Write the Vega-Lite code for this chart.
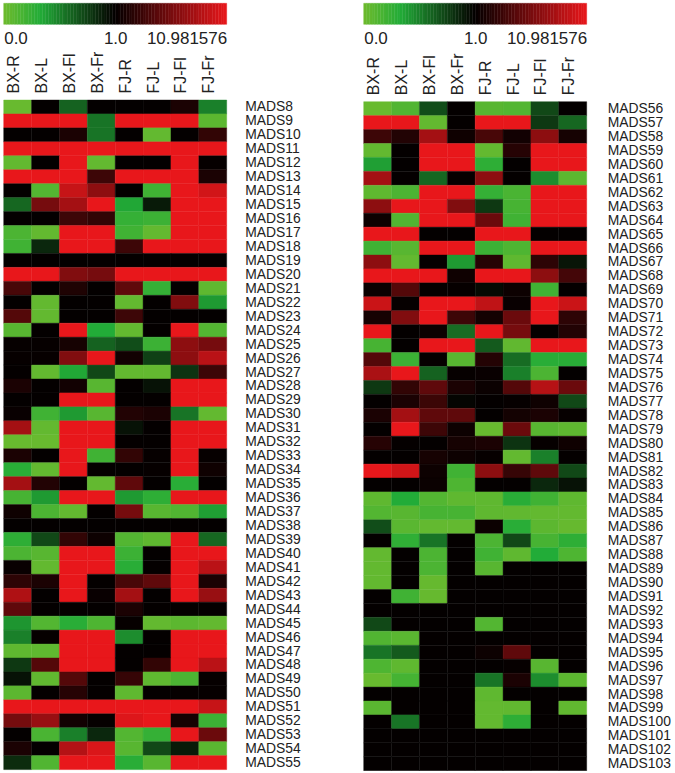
{"$schema":"https://vega.github.io/schema/vega-lite/v6.json","background":"white","padding":{"left":2.7,"top":2.3,"right":0,"bottom":0},"config":{"view":{"stroke":null},"font":"Liberation Sans","concat":{"spacing":0}},
"datasets":{
"bar":[{"pos":0,"end":0.0125,"value":0.0125},{"pos":0.0125,"end":0.025,"value":0.0375},{"pos":0.025,"end":0.0375,"value":0.0625},{"pos":0.0375,"end":0.05,"value":0.0875},{"pos":0.05,"end":0.0625,"value":0.1125},{"pos":0.0625,"end":0.075,"value":0.1375},{"pos":0.075,"end":0.0875,"value":0.1625},{"pos":0.0875,"end":0.1,"value":0.1875},{"pos":0.1,"end":0.1125,"value":0.2125},{"pos":0.1125,"end":0.125,"value":0.2375},{"pos":0.125,"end":0.1375,"value":0.2625},{"pos":0.1375,"end":0.15,"value":0.2875},{"pos":0.15,"end":0.1625,"value":0.3125},{"pos":0.1625,"end":0.175,"value":0.3375},{"pos":0.175,"end":0.1875,"value":0.3625},{"pos":0.1875,"end":0.2,"value":0.3875},{"pos":0.2,"end":0.2125,"value":0.4125},{"pos":0.2125,"end":0.225,"value":0.4375},{"pos":0.225,"end":0.2375,"value":0.4625},{"pos":0.2375,"end":0.25,"value":0.4875},{"pos":0.25,"end":0.2625,"value":0.5125},{"pos":0.2625,"end":0.275,"value":0.5375},{"pos":0.275,"end":0.2875,"value":0.5625},{"pos":0.2875,"end":0.3,"value":0.5875},{"pos":0.3,"end":0.3125,"value":0.6125},{"pos":0.3125,"end":0.325,"value":0.6375},{"pos":0.325,"end":0.3375,"value":0.6625},{"pos":0.3375,"end":0.35,"value":0.6875},{"pos":0.35,"end":0.3625,"value":0.7125},{"pos":0.3625,"end":0.375,"value":0.7375},{"pos":0.375,"end":0.3875,"value":0.7625},{"pos":0.3875,"end":0.4,"value":0.7875},{"pos":0.4,"end":0.4125,"value":0.8125},{"pos":0.4125,"end":0.425,"value":0.8375},{"pos":0.425,"end":0.4375,"value":0.8625},{"pos":0.4375,"end":0.45,"value":0.8875},{"pos":0.45,"end":0.4625,"value":0.9125},{"pos":0.4625,"end":0.475,"value":0.9375},{"pos":0.475,"end":0.4875,"value":0.9625},{"pos":0.4875,"end":0.5,"value":0.9875},{"pos":0.5,"end":0.5125,"value":1.125},{"pos":0.5125,"end":0.525,"value":1.375},{"pos":0.525,"end":0.5375,"value":1.625},{"pos":0.5375,"end":0.55,"value":1.875},{"pos":0.55,"end":0.5625,"value":2.125},{"pos":0.5625,"end":0.575,"value":2.375},{"pos":0.575,"end":0.5875,"value":2.625},{"pos":0.5875,"end":0.6,"value":2.875},{"pos":0.6,"end":0.6125,"value":3.125},{"pos":0.6125,"end":0.625,"value":3.375},{"pos":0.625,"end":0.6375,"value":3.625},{"pos":0.6375,"end":0.65,"value":3.875},{"pos":0.65,"end":0.6625,"value":4.125},{"pos":0.6625,"end":0.675,"value":4.375},{"pos":0.675,"end":0.6875,"value":4.625},{"pos":0.6875,"end":0.7,"value":4.875},{"pos":0.7,"end":0.7125,"value":5.125},{"pos":0.7125,"end":0.725,"value":5.375},{"pos":0.725,"end":0.7375,"value":5.625},{"pos":0.7375,"end":0.75,"value":5.875},{"pos":0.75,"end":0.7625,"value":6.125},{"pos":0.7625,"end":0.775,"value":6.375},{"pos":0.775,"end":0.7875,"value":6.625},{"pos":0.7875,"end":0.8,"value":6.875},{"pos":0.8,"end":0.8125,"value":7.125},{"pos":0.8125,"end":0.825,"value":7.375},{"pos":0.825,"end":0.8375,"value":7.625},{"pos":0.8375,"end":0.85,"value":7.875},{"pos":0.85,"end":0.8625,"value":8.125},{"pos":0.8625,"end":0.875,"value":8.375},{"pos":0.875,"end":0.8875,"value":8.625},{"pos":0.8875,"end":0.9,"value":8.875},{"pos":0.9,"end":0.9125,"value":9.125},{"pos":0.9125,"end":0.925,"value":9.375},{"pos":0.925,"end":0.9375,"value":9.625},{"pos":0.9375,"end":0.95,"value":9.875},{"pos":0.95,"end":0.9625,"value":10.125},{"pos":0.9625,"end":0.975,"value":10.375},{"pos":0.975,"end":0.9875,"value":10.625},{"pos":0.9875,"end":1,"value":10.875}],
"left":[
{"gene":"MADS8","tissue":"BX-R","value":0.03},{"gene":"MADS8","tissue":"BX-L","value":1},{"gene":"MADS8","tissue":"BX-Fl","value":0.62},{"gene":"MADS8","tissue":"BX-Fr","value":1},{"gene":"MADS8","tissue":"FJ-R","value":1},{"gene":"MADS8","tissue":"FJ-L","value":1},{"gene":"MADS8","tissue":"FJ-Fl","value":2},{"gene":"MADS8","tissue":"FJ-Fr","value":0.5},
{"gene":"MADS9","tissue":"BX-R","value":11},{"gene":"MADS9","tissue":"BX-L","value":11},{"gene":"MADS9","tissue":"BX-Fl","value":11},{"gene":"MADS9","tissue":"BX-Fr","value":0.55},{"gene":"MADS9","tissue":"FJ-R","value":11},{"gene":"MADS9","tissue":"FJ-L","value":11},{"gene":"MADS9","tissue":"FJ-Fl","value":11},{"gene":"MADS9","tissue":"FJ-Fr","value":0.08},
{"gene":"MADS10","tissue":"BX-R","value":1},{"gene":"MADS10","tissue":"BX-L","value":1},{"gene":"MADS10","tissue":"BX-Fl","value":2},{"gene":"MADS10","tissue":"BX-Fr","value":0.55},{"gene":"MADS10","tissue":"FJ-R","value":1},{"gene":"MADS10","tissue":"FJ-L","value":0.05},{"gene":"MADS10","tissue":"FJ-Fl","value":1},{"gene":"MADS10","tissue":"FJ-Fr","value":3},
{"gene":"MADS11","tissue":"BX-R","value":11},{"gene":"MADS11","tissue":"BX-L","value":11},{"gene":"MADS11","tissue":"BX-Fl","value":11},{"gene":"MADS11","tissue":"BX-Fr","value":11},{"gene":"MADS11","tissue":"FJ-R","value":11},{"gene":"MADS11","tissue":"FJ-L","value":11},{"gene":"MADS11","tissue":"FJ-Fl","value":11},{"gene":"MADS11","tissue":"FJ-Fr","value":11},
{"gene":"MADS12","tissue":"BX-R","value":0.05},{"gene":"MADS12","tissue":"BX-L","value":1},{"gene":"MADS12","tissue":"BX-Fl","value":11},{"gene":"MADS12","tissue":"BX-Fr","value":0.05},{"gene":"MADS12","tissue":"FJ-R","value":1},{"gene":"MADS12","tissue":"FJ-L","value":1},{"gene":"MADS12","tissue":"FJ-Fl","value":11},{"gene":"MADS12","tissue":"FJ-Fr","value":1.1},
{"gene":"MADS13","tissue":"BX-R","value":11},{"gene":"MADS13","tissue":"BX-L","value":11},{"gene":"MADS13","tissue":"BX-Fl","value":11},{"gene":"MADS13","tissue":"BX-Fr","value":3.5},{"gene":"MADS13","tissue":"FJ-R","value":11},{"gene":"MADS13","tissue":"FJ-L","value":11},{"gene":"MADS13","tissue":"FJ-Fl","value":11},{"gene":"MADS13","tissue":"FJ-Fr","value":2},
{"gene":"MADS14","tissue":"BX-R","value":1},{"gene":"MADS14","tissue":"BX-L","value":0.12},{"gene":"MADS14","tissue":"BX-Fl","value":9.5},{"gene":"MADS14","tissue":"BX-Fr","value":7},{"gene":"MADS14","tissue":"FJ-R","value":1},{"gene":"MADS14","tissue":"FJ-L","value":0.2},{"gene":"MADS14","tissue":"FJ-Fl","value":11},{"gene":"MADS14","tissue":"FJ-Fr","value":10},
{"gene":"MADS15","tissue":"BX-R","value":0.6},{"gene":"MADS15","tissue":"BX-L","value":6},{"gene":"MADS15","tissue":"BX-Fl","value":8},{"gene":"MADS15","tissue":"BX-Fr","value":11},{"gene":"MADS15","tissue":"FJ-R","value":0.35},{"gene":"MADS15","tissue":"FJ-L","value":0.9},{"gene":"MADS15","tissue":"FJ-Fl","value":11},{"gene":"MADS15","tissue":"FJ-Fr","value":11},
{"gene":"MADS16","tissue":"BX-R","value":1},{"gene":"MADS16","tissue":"BX-L","value":1},{"gene":"MADS16","tissue":"BX-Fl","value":3.5},{"gene":"MADS16","tissue":"BX-Fr","value":3},{"gene":"MADS16","tissue":"FJ-R","value":0.25},{"gene":"MADS16","tissue":"FJ-L","value":0.22},{"gene":"MADS16","tissue":"FJ-Fl","value":11},{"gene":"MADS16","tissue":"FJ-Fr","value":11},
{"gene":"MADS17","tissue":"BX-R","value":0.15},{"gene":"MADS17","tissue":"BX-L","value":0.05},{"gene":"MADS17","tissue":"BX-Fl","value":11},{"gene":"MADS17","tissue":"BX-Fr","value":11},{"gene":"MADS17","tissue":"FJ-R","value":0.2},{"gene":"MADS17","tissue":"FJ-L","value":0.05},{"gene":"MADS17","tissue":"FJ-Fl","value":11},{"gene":"MADS17","tissue":"FJ-Fr","value":11},
{"gene":"MADS18","tissue":"BX-R","value":0.2},{"gene":"MADS18","tissue":"BX-L","value":0.85},{"gene":"MADS18","tissue":"BX-Fl","value":11},{"gene":"MADS18","tissue":"BX-Fr","value":11},{"gene":"MADS18","tissue":"FJ-R","value":3.5},{"gene":"MADS18","tissue":"FJ-L","value":11},{"gene":"MADS18","tissue":"FJ-Fl","value":11},{"gene":"MADS18","tissue":"FJ-Fr","value":11},
{"gene":"MADS19","tissue":"BX-R","value":1},{"gene":"MADS19","tissue":"BX-L","value":1},{"gene":"MADS19","tissue":"BX-Fl","value":1},{"gene":"MADS19","tissue":"BX-Fr","value":1},{"gene":"MADS19","tissue":"FJ-R","value":1},{"gene":"MADS19","tissue":"FJ-L","value":1},{"gene":"MADS19","tissue":"FJ-Fl","value":1},{"gene":"MADS19","tissue":"FJ-Fr","value":1},
{"gene":"MADS20","tissue":"BX-R","value":11},{"gene":"MADS20","tissue":"BX-L","value":11},{"gene":"MADS20","tissue":"BX-Fl","value":6.5},{"gene":"MADS20","tissue":"BX-Fr","value":6},{"gene":"MADS20","tissue":"FJ-R","value":11},{"gene":"MADS20","tissue":"FJ-L","value":11},{"gene":"MADS20","tissue":"FJ-Fl","value":11},{"gene":"MADS20","tissue":"FJ-Fr","value":11},
{"gene":"MADS21","tissue":"BX-R","value":4},{"gene":"MADS21","tissue":"BX-L","value":1},{"gene":"MADS21","tissue":"BX-Fl","value":2.2},{"gene":"MADS21","tissue":"BX-Fr","value":1},{"gene":"MADS21","tissue":"FJ-R","value":5},{"gene":"MADS21","tissue":"FJ-L","value":0.25},{"gene":"MADS21","tissue":"FJ-Fl","value":1},{"gene":"MADS21","tissue":"FJ-Fr","value":0.07},
{"gene":"MADS22","tissue":"BX-R","value":1},{"gene":"MADS22","tissue":"BX-L","value":0.05},{"gene":"MADS22","tissue":"BX-Fl","value":1},{"gene":"MADS22","tissue":"BX-Fr","value":1},{"gene":"MADS22","tissue":"FJ-R","value":0.05},{"gene":"MADS22","tissue":"FJ-L","value":1},{"gene":"MADS22","tissue":"FJ-Fl","value":6.5},{"gene":"MADS22","tissue":"FJ-Fr","value":0.4},
{"gene":"MADS23","tissue":"BX-R","value":4.5},{"gene":"MADS23","tissue":"BX-L","value":0.05},{"gene":"MADS23","tissue":"BX-Fl","value":1},{"gene":"MADS23","tissue":"BX-Fr","value":1},{"gene":"MADS23","tissue":"FJ-R","value":3.5},{"gene":"MADS23","tissue":"FJ-L","value":1},{"gene":"MADS23","tissue":"FJ-Fl","value":1},{"gene":"MADS23","tissue":"FJ-Fr","value":1},
{"gene":"MADS24","tissue":"BX-R","value":0.1},{"gene":"MADS24","tissue":"BX-L","value":1},{"gene":"MADS24","tissue":"BX-Fl","value":11},{"gene":"MADS24","tissue":"BX-Fr","value":0.33},{"gene":"MADS24","tissue":"FJ-R","value":0.05},{"gene":"MADS24","tissue":"FJ-L","value":1},{"gene":"MADS24","tissue":"FJ-Fl","value":11},{"gene":"MADS24","tissue":"FJ-Fr","value":0.12},
{"gene":"MADS25","tissue":"BX-R","value":1.1},{"gene":"MADS25","tissue":"BX-L","value":1.1},{"gene":"MADS25","tissue":"BX-Fl","value":1.8},{"gene":"MADS25","tissue":"BX-Fr","value":0.62},{"gene":"MADS25","tissue":"FJ-R","value":0.7},{"gene":"MADS25","tissue":"FJ-L","value":0.22},{"gene":"MADS25","tissue":"FJ-Fl","value":7},{"gene":"MADS25","tissue":"FJ-Fr","value":6},
{"gene":"MADS26","tissue":"BX-R","value":1.1},{"gene":"MADS26","tissue":"BX-L","value":1.1},{"gene":"MADS26","tissue":"BX-Fl","value":6.5},{"gene":"MADS26","tissue":"BX-Fr","value":11},{"gene":"MADS26","tissue":"FJ-R","value":1.6},{"gene":"MADS26","tissue":"FJ-L","value":0.75},{"gene":"MADS26","tissue":"FJ-Fl","value":7},{"gene":"MADS26","tissue":"FJ-Fr","value":9},
{"gene":"MADS27","tissue":"BX-R","value":1},{"gene":"MADS27","tissue":"BX-L","value":0.05},{"gene":"MADS27","tissue":"BX-Fl","value":0.35},{"gene":"MADS27","tissue":"BX-Fr","value":0.72},{"gene":"MADS27","tissue":"FJ-R","value":0.05},{"gene":"MADS27","tissue":"FJ-L","value":0.05},{"gene":"MADS27","tissue":"FJ-Fl","value":0.8},{"gene":"MADS27","tissue":"FJ-Fr","value":3.5},
{"gene":"MADS28","tissue":"BX-R","value":2},{"gene":"MADS28","tissue":"BX-L","value":1},{"gene":"MADS28","tissue":"BX-Fl","value":1.6},{"gene":"MADS28","tissue":"BX-Fr","value":0.1},{"gene":"MADS28","tissue":"FJ-R","value":1},{"gene":"MADS28","tissue":"FJ-L","value":0.93},{"gene":"MADS28","tissue":"FJ-Fl","value":11},{"gene":"MADS28","tissue":"FJ-Fr","value":11},
{"gene":"MADS29","tissue":"BX-R","value":1},{"gene":"MADS29","tissue":"BX-L","value":1},{"gene":"MADS29","tissue":"BX-Fl","value":11},{"gene":"MADS29","tissue":"BX-Fr","value":11},{"gene":"MADS29","tissue":"FJ-R","value":1},{"gene":"MADS29","tissue":"FJ-L","value":1},{"gene":"MADS29","tissue":"FJ-Fl","value":11},{"gene":"MADS29","tissue":"FJ-Fr","value":11},
{"gene":"MADS30","tissue":"BX-R","value":1.2},{"gene":"MADS30","tissue":"BX-L","value":0.2},{"gene":"MADS30","tissue":"BX-Fl","value":0.4},{"gene":"MADS30","tissue":"BX-Fr","value":0.1},{"gene":"MADS30","tissue":"FJ-R","value":2.3},{"gene":"MADS30","tissue":"FJ-L","value":2},{"gene":"MADS30","tissue":"FJ-Fl","value":0.55},{"gene":"MADS30","tissue":"FJ-Fr","value":0.05},
{"gene":"MADS31","tissue":"BX-R","value":8},{"gene":"MADS31","tissue":"BX-L","value":0.05},{"gene":"MADS31","tissue":"BX-Fl","value":11},{"gene":"MADS31","tissue":"BX-Fr","value":11},{"gene":"MADS31","tissue":"FJ-R","value":0.93},{"gene":"MADS31","tissue":"FJ-L","value":1},{"gene":"MADS31","tissue":"FJ-Fl","value":11},{"gene":"MADS31","tissue":"FJ-Fr","value":11},
{"gene":"MADS32","tissue":"BX-R","value":0.03},{"gene":"MADS32","tissue":"BX-L","value":0.03},{"gene":"MADS32","tissue":"BX-Fl","value":11},{"gene":"MADS32","tissue":"BX-Fr","value":11},{"gene":"MADS32","tissue":"FJ-R","value":1},{"gene":"MADS32","tissue":"FJ-L","value":1},{"gene":"MADS32","tissue":"FJ-Fl","value":11},{"gene":"MADS32","tissue":"FJ-Fr","value":11},
{"gene":"MADS33","tissue":"BX-R","value":2},{"gene":"MADS33","tissue":"BX-L","value":1},{"gene":"MADS33","tissue":"BX-Fl","value":11},{"gene":"MADS33","tissue":"BX-Fr","value":0.2},{"gene":"MADS33","tissue":"FJ-R","value":3},{"gene":"MADS33","tissue":"FJ-L","value":1.1},{"gene":"MADS33","tissue":"FJ-Fl","value":11},{"gene":"MADS33","tissue":"FJ-Fr","value":1.1},
{"gene":"MADS34","tissue":"BX-R","value":0.3},{"gene":"MADS34","tissue":"BX-L","value":0.05},{"gene":"MADS34","tissue":"BX-Fl","value":11},{"gene":"MADS34","tissue":"BX-Fr","value":1},{"gene":"MADS34","tissue":"FJ-R","value":1},{"gene":"MADS34","tissue":"FJ-L","value":1.1},{"gene":"MADS34","tissue":"FJ-Fl","value":11},{"gene":"MADS34","tissue":"FJ-Fr","value":1.5},
{"gene":"MADS35","tissue":"BX-R","value":8},{"gene":"MADS35","tissue":"BX-L","value":2.3},{"gene":"MADS35","tissue":"BX-Fl","value":1},{"gene":"MADS35","tissue":"BX-Fr","value":0.05},{"gene":"MADS35","tissue":"FJ-R","value":5},{"gene":"MADS35","tissue":"FJ-L","value":1},{"gene":"MADS35","tissue":"FJ-Fl","value":0.3},{"gene":"MADS35","tissue":"FJ-Fr","value":1},
{"gene":"MADS36","tissue":"BX-R","value":0.17},{"gene":"MADS36","tissue":"BX-L","value":0.4},{"gene":"MADS36","tissue":"BX-Fl","value":11},{"gene":"MADS36","tissue":"BX-Fr","value":11},{"gene":"MADS36","tissue":"FJ-R","value":0.4},{"gene":"MADS36","tissue":"FJ-L","value":0.28},{"gene":"MADS36","tissue":"FJ-Fl","value":11},{"gene":"MADS36","tissue":"FJ-Fr","value":11},
{"gene":"MADS37","tissue":"BX-R","value":1.5},{"gene":"MADS37","tissue":"BX-L","value":0.15},{"gene":"MADS37","tissue":"BX-Fl","value":0.05},{"gene":"MADS37","tissue":"BX-Fr","value":1},{"gene":"MADS37","tissue":"FJ-R","value":6},{"gene":"MADS37","tissue":"FJ-L","value":0.1},{"gene":"MADS37","tissue":"FJ-Fl","value":0.13},{"gene":"MADS37","tissue":"FJ-Fr","value":0.38},
{"gene":"MADS38","tissue":"BX-R","value":1},{"gene":"MADS38","tissue":"BX-L","value":1},{"gene":"MADS38","tissue":"BX-Fl","value":1},{"gene":"MADS38","tissue":"BX-Fr","value":1},{"gene":"MADS38","tissue":"FJ-R","value":1},{"gene":"MADS38","tissue":"FJ-L","value":1},{"gene":"MADS38","tissue":"FJ-Fl","value":1},{"gene":"MADS38","tissue":"FJ-Fr","value":1},
{"gene":"MADS39","tissue":"BX-R","value":0.28},{"gene":"MADS39","tissue":"BX-L","value":0.72},{"gene":"MADS39","tissue":"BX-Fl","value":3},{"gene":"MADS39","tissue":"BX-Fr","value":1.4},{"gene":"MADS39","tissue":"FJ-R","value":0.12},{"gene":"MADS39","tissue":"FJ-L","value":0.07},{"gene":"MADS39","tissue":"FJ-Fl","value":11},{"gene":"MADS39","tissue":"FJ-Fr","value":0.6},
{"gene":"MADS40","tissue":"BX-R","value":0.15},{"gene":"MADS40","tissue":"BX-L","value":0.1},{"gene":"MADS40","tissue":"BX-Fl","value":11},{"gene":"MADS40","tissue":"BX-Fr","value":11},{"gene":"MADS40","tissue":"FJ-R","value":0.22},{"gene":"MADS40","tissue":"FJ-L","value":1},{"gene":"MADS40","tissue":"FJ-Fl","value":11},{"gene":"MADS40","tissue":"FJ-Fr","value":11},
{"gene":"MADS41","tissue":"BX-R","value":1.2},{"gene":"MADS41","tissue":"BX-L","value":0.05},{"gene":"MADS41","tissue":"BX-Fl","value":11},{"gene":"MADS41","tissue":"BX-Fr","value":11},{"gene":"MADS41","tissue":"FJ-R","value":0.3},{"gene":"MADS41","tissue":"FJ-L","value":1},{"gene":"MADS41","tissue":"FJ-Fl","value":11},{"gene":"MADS41","tissue":"FJ-Fr","value":9},
{"gene":"MADS42","tissue":"BX-R","value":2.8},{"gene":"MADS42","tissue":"BX-L","value":2},{"gene":"MADS42","tissue":"BX-Fl","value":11},{"gene":"MADS42","tissue":"BX-Fr","value":1},{"gene":"MADS42","tissue":"FJ-R","value":4},{"gene":"MADS42","tissue":"FJ-L","value":5},{"gene":"MADS42","tissue":"FJ-Fl","value":11},{"gene":"MADS42","tissue":"FJ-Fr","value":2},
{"gene":"MADS43","tissue":"BX-R","value":8.5},{"gene":"MADS43","tissue":"BX-L","value":1},{"gene":"MADS43","tissue":"BX-Fl","value":11},{"gene":"MADS43","tissue":"BX-Fr","value":1.2},{"gene":"MADS43","tissue":"FJ-R","value":8},{"gene":"MADS43","tissue":"FJ-L","value":1},{"gene":"MADS43","tissue":"FJ-Fl","value":11},{"gene":"MADS43","tissue":"FJ-Fr","value":7.5},
{"gene":"MADS44","tissue":"BX-R","value":5},{"gene":"MADS44","tissue":"BX-L","value":1},{"gene":"MADS44","tissue":"BX-Fl","value":1},{"gene":"MADS44","tissue":"BX-Fr","value":1},{"gene":"MADS44","tissue":"FJ-R","value":2},{"gene":"MADS44","tissue":"FJ-L","value":1},{"gene":"MADS44","tissue":"FJ-Fl","value":1},{"gene":"MADS44","tissue":"FJ-Fr","value":1},
{"gene":"MADS45","tissue":"BX-R","value":0.42},{"gene":"MADS45","tissue":"BX-L","value":0.12},{"gene":"MADS45","tissue":"BX-Fl","value":0.3},{"gene":"MADS45","tissue":"BX-Fr","value":0.14},{"gene":"MADS45","tissue":"FJ-R","value":1.1},{"gene":"MADS45","tissue":"FJ-L","value":0.05},{"gene":"MADS45","tissue":"FJ-Fl","value":0.08},{"gene":"MADS45","tissue":"FJ-Fr","value":0.05},
{"gene":"MADS46","tissue":"BX-R","value":0.5},{"gene":"MADS46","tissue":"BX-L","value":1.1},{"gene":"MADS46","tissue":"BX-Fl","value":11},{"gene":"MADS46","tissue":"BX-Fr","value":11},{"gene":"MADS46","tissue":"FJ-R","value":0.45},{"gene":"MADS46","tissue":"FJ-L","value":1},{"gene":"MADS46","tissue":"FJ-Fl","value":11},{"gene":"MADS46","tissue":"FJ-Fr","value":11},
{"gene":"MADS47","tissue":"BX-R","value":0.07},{"gene":"MADS47","tissue":"BX-L","value":0.07},{"gene":"MADS47","tissue":"BX-Fl","value":11},{"gene":"MADS47","tissue":"BX-Fr","value":11},{"gene":"MADS47","tissue":"FJ-R","value":1},{"gene":"MADS47","tissue":"FJ-L","value":1},{"gene":"MADS47","tissue":"FJ-Fl","value":11},{"gene":"MADS47","tissue":"FJ-Fr","value":11},
{"gene":"MADS48","tissue":"BX-R","value":0.78},{"gene":"MADS48","tissue":"BX-L","value":4.5},{"gene":"MADS48","tissue":"BX-Fl","value":11},{"gene":"MADS48","tissue":"BX-Fr","value":11},{"gene":"MADS48","tissue":"FJ-R","value":1},{"gene":"MADS48","tissue":"FJ-L","value":3},{"gene":"MADS48","tissue":"FJ-Fl","value":11},{"gene":"MADS48","tissue":"FJ-Fr","value":9},
{"gene":"MADS49","tissue":"BX-R","value":0.93},{"gene":"MADS49","tissue":"BX-L","value":0.06},{"gene":"MADS49","tissue":"BX-Fl","value":4.5},{"gene":"MADS49","tissue":"BX-Fr","value":1},{"gene":"MADS49","tissue":"FJ-R","value":3.2},{"gene":"MADS49","tissue":"FJ-L","value":0.07},{"gene":"MADS49","tissue":"FJ-Fl","value":0.15},{"gene":"MADS49","tissue":"FJ-Fr","value":1.1},
{"gene":"MADS50","tissue":"BX-R","value":0.08},{"gene":"MADS50","tissue":"BX-L","value":1},{"gene":"MADS50","tissue":"BX-Fl","value":2.5},{"gene":"MADS50","tissue":"BX-Fr","value":1},{"gene":"MADS50","tissue":"FJ-R","value":0.07},{"gene":"MADS50","tissue":"FJ-L","value":1},{"gene":"MADS50","tissue":"FJ-Fl","value":1.1},{"gene":"MADS50","tissue":"FJ-Fr","value":1.1},
{"gene":"MADS51","tissue":"BX-R","value":11},{"gene":"MADS51","tissue":"BX-L","value":11},{"gene":"MADS51","tissue":"BX-Fl","value":11},{"gene":"MADS51","tissue":"BX-Fr","value":11},{"gene":"MADS51","tissue":"FJ-R","value":11},{"gene":"MADS51","tissue":"FJ-L","value":11},{"gene":"MADS51","tissue":"FJ-Fl","value":11},{"gene":"MADS51","tissue":"FJ-Fr","value":9.5},
{"gene":"MADS52","tissue":"BX-R","value":6},{"gene":"MADS52","tissue":"BX-L","value":7.5},{"gene":"MADS52","tissue":"BX-Fl","value":1.6},{"gene":"MADS52","tissue":"BX-Fr","value":1.1},{"gene":"MADS52","tissue":"FJ-R","value":10.5},{"gene":"MADS52","tissue":"FJ-L","value":11},{"gene":"MADS52","tissue":"FJ-Fl","value":1.8},{"gene":"MADS52","tissue":"FJ-Fr","value":0.22},
{"gene":"MADS53","tissue":"BX-R","value":1},{"gene":"MADS53","tissue":"BX-L","value":0.16},{"gene":"MADS53","tissue":"BX-Fl","value":0.5},{"gene":"MADS53","tissue":"BX-Fr","value":0.85},{"gene":"MADS53","tissue":"FJ-R","value":0.12},{"gene":"MADS53","tissue":"FJ-L","value":0.25},{"gene":"MADS53","tissue":"FJ-Fl","value":11},{"gene":"MADS53","tissue":"FJ-Fr","value":5.5},
{"gene":"MADS54","tissue":"BX-R","value":2},{"gene":"MADS54","tissue":"BX-L","value":1},{"gene":"MADS54","tissue":"BX-Fl","value":8.7},{"gene":"MADS54","tissue":"BX-Fr","value":10.4},{"gene":"MADS54","tissue":"FJ-R","value":0.1},{"gene":"MADS54","tissue":"FJ-L","value":0.72},{"gene":"MADS54","tissue":"FJ-Fl","value":0.9},{"gene":"MADS54","tissue":"FJ-Fr","value":0.09},
{"gene":"MADS55","tissue":"BX-R","value":0.83},{"gene":"MADS55","tissue":"BX-L","value":0.13},{"gene":"MADS55","tissue":"BX-Fl","value":11},{"gene":"MADS55","tissue":"BX-Fr","value":11},{"gene":"MADS55","tissue":"FJ-R","value":0.3},{"gene":"MADS55","tissue":"FJ-L","value":0.1},{"gene":"MADS55","tissue":"FJ-Fl","value":11},{"gene":"MADS55","tissue":"FJ-Fr","value":11}
],
"right":[
{"gene":"MADS56","tissue":"BX-R","value":0.03},{"gene":"MADS56","tissue":"BX-L","value":0.13},{"gene":"MADS56","tissue":"BX-Fl","value":0.7},{"gene":"MADS56","tissue":"BX-Fr","value":1},{"gene":"MADS56","tissue":"FJ-R","value":0.1},{"gene":"MADS56","tissue":"FJ-L","value":0.12},{"gene":"MADS56","tissue":"FJ-Fl","value":0.72},{"gene":"MADS56","tissue":"FJ-Fr","value":1},
{"gene":"MADS57","tissue":"BX-R","value":11},{"gene":"MADS57","tissue":"BX-L","value":11},{"gene":"MADS57","tissue":"BX-Fl","value":0.05},{"gene":"MADS57","tissue":"BX-Fr","value":1},{"gene":"MADS57","tissue":"FJ-R","value":11},{"gene":"MADS57","tissue":"FJ-L","value":11},{"gene":"MADS57","tissue":"FJ-Fl","value":0.78},{"gene":"MADS57","tissue":"FJ-Fr","value":0.6},
{"gene":"MADS58","tissue":"BX-R","value":3.5},{"gene":"MADS58","tissue":"BX-L","value":2.3},{"gene":"MADS58","tissue":"BX-Fl","value":8},{"gene":"MADS58","tissue":"BX-Fr","value":1.5},{"gene":"MADS58","tissue":"FJ-R","value":4},{"gene":"MADS58","tissue":"FJ-L","value":1.6},{"gene":"MADS58","tissue":"FJ-Fl","value":7},{"gene":"MADS58","tissue":"FJ-Fr","value":1.8},
{"gene":"MADS59","tissue":"BX-R","value":0.05},{"gene":"MADS59","tissue":"BX-L","value":1},{"gene":"MADS59","tissue":"BX-Fl","value":11},{"gene":"MADS59","tissue":"BX-Fr","value":11},{"gene":"MADS59","tissue":"FJ-R","value":0.05},{"gene":"MADS59","tissue":"FJ-L","value":2.5},{"gene":"MADS59","tissue":"FJ-Fl","value":11},{"gene":"MADS59","tissue":"FJ-Fr","value":11},
{"gene":"MADS60","tissue":"BX-R","value":0.38},{"gene":"MADS60","tissue":"BX-L","value":1},{"gene":"MADS60","tissue":"BX-Fl","value":11},{"gene":"MADS60","tissue":"BX-Fr","value":11},{"gene":"MADS60","tissue":"FJ-R","value":0.28},{"gene":"MADS60","tissue":"FJ-L","value":1},{"gene":"MADS60","tissue":"FJ-Fl","value":11},{"gene":"MADS60","tissue":"FJ-Fr","value":11},
{"gene":"MADS61","tissue":"BX-R","value":8},{"gene":"MADS61","tissue":"BX-L","value":1},{"gene":"MADS61","tissue":"BX-Fl","value":0.6},{"gene":"MADS61","tissue":"BX-Fr","value":1.1},{"gene":"MADS61","tissue":"FJ-R","value":7},{"gene":"MADS61","tissue":"FJ-L","value":1},{"gene":"MADS61","tissue":"FJ-Fl","value":0.45},{"gene":"MADS61","tissue":"FJ-Fr","value":0.08},
{"gene":"MADS62","tissue":"BX-R","value":0.07},{"gene":"MADS62","tissue":"BX-L","value":0.15},{"gene":"MADS62","tissue":"BX-Fl","value":11},{"gene":"MADS62","tissue":"BX-Fr","value":11},{"gene":"MADS62","tissue":"FJ-R","value":0.25},{"gene":"MADS62","tissue":"FJ-L","value":0.16},{"gene":"MADS62","tissue":"FJ-Fl","value":11},{"gene":"MADS62","tissue":"FJ-Fr","value":11},
{"gene":"MADS63","tissue":"BX-R","value":7},{"gene":"MADS63","tissue":"BX-L","value":11},{"gene":"MADS63","tissue":"BX-Fl","value":11},{"gene":"MADS63","tissue":"BX-Fr","value":6.5},{"gene":"MADS63","tissue":"FJ-R","value":0.78},{"gene":"MADS63","tissue":"FJ-L","value":0.17},{"gene":"MADS63","tissue":"FJ-Fl","value":11},{"gene":"MADS63","tissue":"FJ-Fr","value":11},
{"gene":"MADS64","tissue":"BX-R","value":1.4},{"gene":"MADS64","tissue":"BX-L","value":0.13},{"gene":"MADS64","tissue":"BX-Fl","value":11},{"gene":"MADS64","tissue":"BX-Fr","value":11},{"gene":"MADS64","tissue":"FJ-R","value":5.5},{"gene":"MADS64","tissue":"FJ-L","value":0.2},{"gene":"MADS64","tissue":"FJ-Fl","value":11},{"gene":"MADS64","tissue":"FJ-Fr","value":11},
{"gene":"MADS65","tissue":"BX-R","value":11},{"gene":"MADS65","tissue":"BX-L","value":11},{"gene":"MADS65","tissue":"BX-Fl","value":1},{"gene":"MADS65","tissue":"BX-Fr","value":1},{"gene":"MADS65","tissue":"FJ-R","value":11},{"gene":"MADS65","tissue":"FJ-L","value":11},{"gene":"MADS65","tissue":"FJ-Fl","value":1},{"gene":"MADS65","tissue":"FJ-Fr","value":1},
{"gene":"MADS66","tissue":"BX-R","value":0.2},{"gene":"MADS66","tissue":"BX-L","value":0.1},{"gene":"MADS66","tissue":"BX-Fl","value":11},{"gene":"MADS66","tissue":"BX-Fr","value":11},{"gene":"MADS66","tissue":"FJ-R","value":0.22},{"gene":"MADS66","tissue":"FJ-L","value":0.14},{"gene":"MADS66","tissue":"FJ-Fl","value":11},{"gene":"MADS66","tissue":"FJ-Fr","value":11},
{"gene":"MADS67","tissue":"BX-R","value":7},{"gene":"MADS67","tissue":"BX-L","value":0.05},{"gene":"MADS67","tissue":"BX-Fl","value":1.1},{"gene":"MADS67","tissue":"BX-Fr","value":0.4},{"gene":"MADS67","tissue":"FJ-R","value":2.5},{"gene":"MADS67","tissue":"FJ-L","value":0.07},{"gene":"MADS67","tissue":"FJ-Fl","value":2.8},{"gene":"MADS67","tissue":"FJ-Fr","value":0.92},
{"gene":"MADS68","tissue":"BX-R","value":11},{"gene":"MADS68","tissue":"BX-L","value":11},{"gene":"MADS68","tissue":"BX-Fl","value":11},{"gene":"MADS68","tissue":"BX-Fr","value":1.5},{"gene":"MADS68","tissue":"FJ-R","value":11},{"gene":"MADS68","tissue":"FJ-L","value":11},{"gene":"MADS68","tissue":"FJ-Fl","value":7},{"gene":"MADS68","tissue":"FJ-Fr","value":3.8},
{"gene":"MADS69","tissue":"BX-R","value":1.3},{"gene":"MADS69","tissue":"BX-L","value":4.5},{"gene":"MADS69","tissue":"BX-Fl","value":1.1},{"gene":"MADS69","tissue":"BX-Fr","value":1.1},{"gene":"MADS69","tissue":"FJ-R","value":0.96},{"gene":"MADS69","tissue":"FJ-L","value":1.4},{"gene":"MADS69","tissue":"FJ-Fl","value":0.2},{"gene":"MADS69","tissue":"FJ-Fr","value":1},
{"gene":"MADS70","tissue":"BX-R","value":9.7},{"gene":"MADS70","tissue":"BX-L","value":1.1},{"gene":"MADS70","tissue":"BX-Fl","value":11},{"gene":"MADS70","tissue":"BX-Fr","value":11},{"gene":"MADS70","tissue":"FJ-R","value":9.2},{"gene":"MADS70","tissue":"FJ-L","value":1.2},{"gene":"MADS70","tissue":"FJ-Fl","value":11},{"gene":"MADS70","tissue":"FJ-Fr","value":9.7},
{"gene":"MADS71","tissue":"BX-R","value":1.8},{"gene":"MADS71","tissue":"BX-L","value":6.5},{"gene":"MADS71","tissue":"BX-Fl","value":11},{"gene":"MADS71","tissue":"BX-Fr","value":3.5},{"gene":"MADS71","tissue":"FJ-R","value":1.7},{"gene":"MADS71","tissue":"FJ-L","value":5.5},{"gene":"MADS71","tissue":"FJ-Fl","value":11},{"gene":"MADS71","tissue":"FJ-Fr","value":2.8},
{"gene":"MADS72","tissue":"BX-R","value":11},{"gene":"MADS72","tissue":"BX-L","value":1},{"gene":"MADS72","tissue":"BX-Fl","value":1.3},{"gene":"MADS72","tissue":"BX-Fr","value":0.58},{"gene":"MADS72","tissue":"FJ-R","value":11},{"gene":"MADS72","tissue":"FJ-L","value":6},{"gene":"MADS72","tissue":"FJ-Fl","value":1},{"gene":"MADS72","tissue":"FJ-Fr","value":2.3},
{"gene":"MADS73","tissue":"BX-R","value":0.17},{"gene":"MADS73","tissue":"BX-L","value":1},{"gene":"MADS73","tissue":"BX-Fl","value":11},{"gene":"MADS73","tissue":"BX-Fr","value":11},{"gene":"MADS73","tissue":"FJ-R","value":0.65},{"gene":"MADS73","tissue":"FJ-L","value":0.06},{"gene":"MADS73","tissue":"FJ-Fl","value":11},{"gene":"MADS73","tissue":"FJ-Fr","value":11},
{"gene":"MADS74","tissue":"BX-R","value":4.5},{"gene":"MADS74","tissue":"BX-L","value":0.22},{"gene":"MADS74","tissue":"BX-Fl","value":1.1},{"gene":"MADS74","tissue":"BX-Fr","value":0.1},{"gene":"MADS74","tissue":"FJ-R","value":2.4},{"gene":"MADS74","tissue":"FJ-L","value":0.58},{"gene":"MADS74","tissue":"FJ-Fl","value":0.3},{"gene":"MADS74","tissue":"FJ-Fr","value":0.3},
{"gene":"MADS75","tissue":"BX-R","value":8.3},{"gene":"MADS75","tissue":"BX-L","value":11},{"gene":"MADS75","tissue":"BX-Fl","value":0.62},{"gene":"MADS75","tissue":"BX-Fr","value":1.1},{"gene":"MADS75","tissue":"FJ-R","value":1.2},{"gene":"MADS75","tissue":"FJ-L","value":0.5},{"gene":"MADS75","tissue":"FJ-Fl","value":0.15},{"gene":"MADS75","tissue":"FJ-Fr","value":1},
{"gene":"MADS76","tissue":"BX-R","value":0.78},{"gene":"MADS76","tissue":"BX-L","value":3},{"gene":"MADS76","tissue":"BX-Fl","value":5},{"gene":"MADS76","tissue":"BX-Fr","value":2},{"gene":"MADS76","tissue":"FJ-R","value":1.3},{"gene":"MADS76","tissue":"FJ-L","value":4.5},{"gene":"MADS76","tissue":"FJ-Fl","value":8.8},{"gene":"MADS76","tissue":"FJ-Fr","value":5.5},
{"gene":"MADS77","tissue":"BX-R","value":1},{"gene":"MADS77","tissue":"BX-L","value":2},{"gene":"MADS77","tissue":"BX-Fl","value":3.4},{"gene":"MADS77","tissue":"BX-Fr","value":0.98},{"gene":"MADS77","tissue":"FJ-R","value":1},{"gene":"MADS77","tissue":"FJ-L","value":1.1},{"gene":"MADS77","tissue":"FJ-Fl","value":1.5},{"gene":"MADS77","tissue":"FJ-Fr","value":0.72},
{"gene":"MADS78","tissue":"BX-R","value":2},{"gene":"MADS78","tissue":"BX-L","value":8},{"gene":"MADS78","tissue":"BX-Fl","value":5},{"gene":"MADS78","tissue":"BX-Fr","value":5},{"gene":"MADS78","tissue":"FJ-R","value":1},{"gene":"MADS78","tissue":"FJ-L","value":1.7},{"gene":"MADS78","tissue":"FJ-Fl","value":2},{"gene":"MADS78","tissue":"FJ-Fr","value":1.1},
{"gene":"MADS79","tissue":"BX-R","value":1},{"gene":"MADS79","tissue":"BX-L","value":11},{"gene":"MADS79","tissue":"BX-Fl","value":3.5},{"gene":"MADS79","tissue":"BX-Fr","value":1.4},{"gene":"MADS79","tissue":"FJ-R","value":0.03},{"gene":"MADS79","tissue":"FJ-L","value":5.5},{"gene":"MADS79","tissue":"FJ-Fl","value":0.1},{"gene":"MADS79","tissue":"FJ-Fr","value":0.07},
{"gene":"MADS80","tissue":"BX-R","value":2.5},{"gene":"MADS80","tissue":"BX-L","value":1.05},{"gene":"MADS80","tissue":"BX-Fl","value":1},{"gene":"MADS80","tissue":"BX-Fr","value":1.8},{"gene":"MADS80","tissue":"FJ-R","value":2},{"gene":"MADS80","tissue":"FJ-L","value":0.8},{"gene":"MADS80","tissue":"FJ-Fl","value":1.1},{"gene":"MADS80","tissue":"FJ-Fr","value":1.5},
{"gene":"MADS81","tissue":"BX-R","value":1},{"gene":"MADS81","tissue":"BX-L","value":1},{"gene":"MADS81","tissue":"BX-Fl","value":1.8},{"gene":"MADS81","tissue":"BX-Fr","value":1.4},{"gene":"MADS81","tissue":"FJ-R","value":1.1},{"gene":"MADS81","tissue":"FJ-L","value":0.05},{"gene":"MADS81","tissue":"FJ-Fl","value":0.5},{"gene":"MADS81","tissue":"FJ-Fr","value":1},
{"gene":"MADS82","tissue":"BX-R","value":11},{"gene":"MADS82","tissue":"BX-L","value":10},{"gene":"MADS82","tissue":"BX-Fl","value":1.4},{"gene":"MADS82","tissue":"BX-Fr","value":0.2},{"gene":"MADS82","tissue":"FJ-R","value":7},{"gene":"MADS82","tissue":"FJ-L","value":3.2},{"gene":"MADS82","tissue":"FJ-Fl","value":5},{"gene":"MADS82","tissue":"FJ-Fr","value":0.72},
{"gene":"MADS83","tissue":"BX-R","value":1},{"gene":"MADS83","tissue":"BX-L","value":1},{"gene":"MADS83","tissue":"BX-Fl","value":1.3},{"gene":"MADS83","tissue":"BX-Fr","value":0.14},{"gene":"MADS83","tissue":"FJ-R","value":1},{"gene":"MADS83","tissue":"FJ-L","value":1},{"gene":"MADS83","tissue":"FJ-Fl","value":0.85},{"gene":"MADS83","tissue":"FJ-Fr","value":0.93},
{"gene":"MADS84","tissue":"BX-R","value":0.07},{"gene":"MADS84","tissue":"BX-L","value":0.33},{"gene":"MADS84","tissue":"BX-Fl","value":0.12},{"gene":"MADS84","tissue":"BX-Fr","value":0.07},{"gene":"MADS84","tissue":"FJ-R","value":0.07},{"gene":"MADS84","tissue":"FJ-L","value":0.3},{"gene":"MADS84","tissue":"FJ-Fl","value":0.2},{"gene":"MADS84","tissue":"FJ-Fr","value":0.07},
{"gene":"MADS85","tissue":"BX-R","value":0.12},{"gene":"MADS85","tissue":"BX-L","value":0.1},{"gene":"MADS85","tissue":"BX-Fl","value":0.17},{"gene":"MADS85","tissue":"BX-Fr","value":0.17},{"gene":"MADS85","tissue":"FJ-R","value":0.07},{"gene":"MADS85","tissue":"FJ-L","value":0.06},{"gene":"MADS85","tissue":"FJ-Fl","value":0.05},{"gene":"MADS85","tissue":"FJ-Fr","value":0.05},
{"gene":"MADS86","tissue":"BX-R","value":0.7},{"gene":"MADS86","tissue":"BX-L","value":0.09},{"gene":"MADS86","tissue":"BX-Fl","value":0.05},{"gene":"MADS86","tissue":"BX-Fr","value":0.05},{"gene":"MADS86","tissue":"FJ-R","value":1.3},{"gene":"MADS86","tissue":"FJ-L","value":0.3},{"gene":"MADS86","tissue":"FJ-Fl","value":0.08},{"gene":"MADS86","tissue":"FJ-Fr","value":0.04},
{"gene":"MADS87","tissue":"BX-R","value":1},{"gene":"MADS87","tissue":"BX-L","value":0.27},{"gene":"MADS87","tissue":"BX-Fl","value":0.55},{"gene":"MADS87","tissue":"BX-Fr","value":1},{"gene":"MADS87","tissue":"FJ-R","value":0.15},{"gene":"MADS87","tissue":"FJ-L","value":0.72},{"gene":"MADS87","tissue":"FJ-Fl","value":0.17},{"gene":"MADS87","tissue":"FJ-Fr","value":0.28},
{"gene":"MADS88","tissue":"BX-R","value":0.05},{"gene":"MADS88","tissue":"BX-L","value":1},{"gene":"MADS88","tissue":"BX-Fl","value":0.15},{"gene":"MADS88","tissue":"BX-Fr","value":1},{"gene":"MADS88","tissue":"FJ-R","value":0.2},{"gene":"MADS88","tissue":"FJ-L","value":0.07},{"gene":"MADS88","tissue":"FJ-Fl","value":0.33},{"gene":"MADS88","tissue":"FJ-Fr","value":0.14},
{"gene":"MADS89","tissue":"BX-R","value":0.05},{"gene":"MADS89","tissue":"BX-L","value":1},{"gene":"MADS89","tissue":"BX-Fl","value":0.15},{"gene":"MADS89","tissue":"BX-Fr","value":1},{"gene":"MADS89","tissue":"FJ-R","value":0.1},{"gene":"MADS89","tissue":"FJ-L","value":1},{"gene":"MADS89","tissue":"FJ-Fl","value":1},{"gene":"MADS89","tissue":"FJ-Fr","value":1},
{"gene":"MADS90","tissue":"BX-R","value":0.05},{"gene":"MADS90","tissue":"BX-L","value":1},{"gene":"MADS90","tissue":"BX-Fl","value":0.04},{"gene":"MADS90","tissue":"BX-Fr","value":1},{"gene":"MADS90","tissue":"FJ-R","value":1},{"gene":"MADS90","tissue":"FJ-L","value":1},{"gene":"MADS90","tissue":"FJ-Fl","value":1},{"gene":"MADS90","tissue":"FJ-Fr","value":1},
{"gene":"MADS91","tissue":"BX-R","value":1},{"gene":"MADS91","tissue":"BX-L","value":0.2},{"gene":"MADS91","tissue":"BX-Fl","value":0.04},{"gene":"MADS91","tissue":"BX-Fr","value":1},{"gene":"MADS91","tissue":"FJ-R","value":1},{"gene":"MADS91","tissue":"FJ-L","value":1},{"gene":"MADS91","tissue":"FJ-Fl","value":1},{"gene":"MADS91","tissue":"FJ-Fr","value":1},
{"gene":"MADS92","tissue":"BX-R","value":1},{"gene":"MADS92","tissue":"BX-L","value":1},{"gene":"MADS92","tissue":"BX-Fl","value":1},{"gene":"MADS92","tissue":"BX-Fr","value":1},{"gene":"MADS92","tissue":"FJ-R","value":1},{"gene":"MADS92","tissue":"FJ-L","value":1},{"gene":"MADS92","tissue":"FJ-Fl","value":1},{"gene":"MADS92","tissue":"FJ-Fr","value":1},
{"gene":"MADS93","tissue":"BX-R","value":0.72},{"gene":"MADS93","tissue":"BX-L","value":1},{"gene":"MADS93","tissue":"BX-Fl","value":1},{"gene":"MADS93","tissue":"BX-Fr","value":1},{"gene":"MADS93","tissue":"FJ-R","value":0.12},{"gene":"MADS93","tissue":"FJ-L","value":1},{"gene":"MADS93","tissue":"FJ-Fl","value":1},{"gene":"MADS93","tissue":"FJ-Fr","value":1},
{"gene":"MADS94","tissue":"BX-R","value":0.13},{"gene":"MADS94","tissue":"BX-L","value":0.09},{"gene":"MADS94","tissue":"BX-Fl","value":1},{"gene":"MADS94","tissue":"BX-Fr","value":1},{"gene":"MADS94","tissue":"FJ-R","value":1},{"gene":"MADS94","tissue":"FJ-L","value":1},{"gene":"MADS94","tissue":"FJ-Fl","value":1},{"gene":"MADS94","tissue":"FJ-Fr","value":1},
{"gene":"MADS95","tissue":"BX-R","value":0.55},{"gene":"MADS95","tissue":"BX-L","value":0.65},{"gene":"MADS95","tissue":"BX-Fl","value":1},{"gene":"MADS95","tissue":"BX-Fr","value":1},{"gene":"MADS95","tissue":"FJ-R","value":1.4},{"gene":"MADS95","tissue":"FJ-L","value":5},{"gene":"MADS95","tissue":"FJ-Fl","value":1},{"gene":"MADS95","tissue":"FJ-Fr","value":1},
{"gene":"MADS96","tissue":"BX-R","value":0.14},{"gene":"MADS96","tissue":"BX-L","value":0.07},{"gene":"MADS96","tissue":"BX-Fl","value":1},{"gene":"MADS96","tissue":"BX-Fr","value":1},{"gene":"MADS96","tissue":"FJ-R","value":1},{"gene":"MADS96","tissue":"FJ-L","value":1.1},{"gene":"MADS96","tissue":"FJ-Fl","value":0.1},{"gene":"MADS96","tissue":"FJ-Fr","value":1},
{"gene":"MADS97","tissue":"BX-R","value":0.03},{"gene":"MADS97","tissue":"BX-L","value":0.18},{"gene":"MADS97","tissue":"BX-Fl","value":1},{"gene":"MADS97","tissue":"BX-Fr","value":1},{"gene":"MADS97","tissue":"FJ-R","value":0.55},{"gene":"MADS97","tissue":"FJ-L","value":2},{"gene":"MADS97","tissue":"FJ-Fl","value":0.45},{"gene":"MADS97","tissue":"FJ-Fr","value":0.08},
{"gene":"MADS98","tissue":"BX-R","value":1},{"gene":"MADS98","tissue":"BX-L","value":1},{"gene":"MADS98","tissue":"BX-Fl","value":1},{"gene":"MADS98","tissue":"BX-Fr","value":1},{"gene":"MADS98","tissue":"FJ-R","value":0.07},{"gene":"MADS98","tissue":"FJ-L","value":1},{"gene":"MADS98","tissue":"FJ-Fl","value":1},{"gene":"MADS98","tissue":"FJ-Fr","value":1},
{"gene":"MADS99","tissue":"BX-R","value":0.09},{"gene":"MADS99","tissue":"BX-L","value":1},{"gene":"MADS99","tissue":"BX-Fl","value":1},{"gene":"MADS99","tissue":"BX-Fr","value":1},{"gene":"MADS99","tissue":"FJ-R","value":0.05},{"gene":"MADS99","tissue":"FJ-L","value":0.06},{"gene":"MADS99","tissue":"FJ-Fl","value":1},{"gene":"MADS99","tissue":"FJ-Fr","value":0.06},
{"gene":"MADS100","tissue":"BX-R","value":1},{"gene":"MADS100","tissue":"BX-L","value":0.55},{"gene":"MADS100","tissue":"BX-Fl","value":1},{"gene":"MADS100","tissue":"BX-Fr","value":1},{"gene":"MADS100","tissue":"FJ-R","value":0.05},{"gene":"MADS100","tissue":"FJ-L","value":0.28},{"gene":"MADS100","tissue":"FJ-Fl","value":1},{"gene":"MADS100","tissue":"FJ-Fr","value":1},
{"gene":"MADS101","tissue":"BX-R","value":1},{"gene":"MADS101","tissue":"BX-L","value":1},{"gene":"MADS101","tissue":"BX-Fl","value":1},{"gene":"MADS101","tissue":"BX-Fr","value":1},{"gene":"MADS101","tissue":"FJ-R","value":1},{"gene":"MADS101","tissue":"FJ-L","value":1},{"gene":"MADS101","tissue":"FJ-Fl","value":1},{"gene":"MADS101","tissue":"FJ-Fr","value":1},
{"gene":"MADS102","tissue":"BX-R","value":1},{"gene":"MADS102","tissue":"BX-L","value":1},{"gene":"MADS102","tissue":"BX-Fl","value":1},{"gene":"MADS102","tissue":"BX-Fr","value":1},{"gene":"MADS102","tissue":"FJ-R","value":1},{"gene":"MADS102","tissue":"FJ-L","value":1},{"gene":"MADS102","tissue":"FJ-Fl","value":1},{"gene":"MADS102","tissue":"FJ-Fr","value":1},
{"gene":"MADS103","tissue":"BX-R","value":1},{"gene":"MADS103","tissue":"BX-L","value":1},{"gene":"MADS103","tissue":"BX-Fl","value":1},{"gene":"MADS103","tissue":"BX-Fr","value":1},{"gene":"MADS103","tissue":"FJ-R","value":1},{"gene":"MADS103","tissue":"FJ-L","value":1},{"gene":"MADS103","tissue":"FJ-Fl","value":1},{"gene":"MADS103","tissue":"FJ-Fr","value":1}
]},
"hconcat":[
{"vconcat":[
{"data":{"name":"bar"},"width":223,"height":21,"mark":{"type":"rect","strokeWidth":0.4},"encoding":{
"x":{"field":"pos","type":"quantitative","scale":{"domain":[0,1],"nice":false,"zero":false},"axis":{"title":null,"values":[0,0.5,1],"domain":false,"ticks":false,"grid":false,"labelFlush":true,"labelFontSize":17,"labelColor":"#222","labelPadding":6.5,"labelExpr":"datum.value==0?'0.0':datum.value==1?'10.981576':'1.0'"}},
"x2":{"field":"end"},
"color":{"field":"value","type":"quantitative","legend":null,"scale":{"type":"linear","interpolate":"rgb","domain":[0,0.33,1,11],"range":["#6fbb2e","#22ac38","#040000","#e8171b"]}},
"stroke":{"field":"value","type":"quantitative","legend":null,"scale":{"type":"linear","interpolate":"rgb","domain":[0,0.33,1,11],"range":["#6fbb2e","#22ac38","#040000","#e8171b"]}}}},
{"data":{"name":"left"},"width":223,"height":669.6,"mark":{"type":"rect","strokeWidth":0.4},"encoding":{
"x":{"field":"tissue","type":"nominal","sort":null,"scale":{"paddingInner":0,"paddingOuter":0},"axis":{"orient":"top","title":null,"domain":false,"ticks":false,"labelAngle":-90,"labelFontSize":16,"labelColor":"#222","labelPadding":7,"labelOffset":-3.5}},
"y":{"field":"gene","type":"nominal","sort":null,"scale":{"paddingInner":0,"paddingOuter":0},"axis":{"orient":"right","title":null,"domain":false,"ticks":false,"labelFontSize":13.9,"labelColor":"#222","labelPadding":18,"labelOffset":0.5}},
"color":{"field":"value","type":"quantitative","legend":null,"scale":{"type":"linear","interpolate":"rgb","domain":[0,0.33,1,11],"range":["#6fbb2e","#22ac38","#040000","#e8171b"]}},
"stroke":{"field":"value","type":"quantitative","legend":null,"scale":{"type":"linear","interpolate":"rgb","domain":[0,0.33,1,11],"range":["#6fbb2e","#22ac38","#040000","#e8171b"]}}}}
],"spacing":3.7},
{"vconcat":[
{"data":{"name":"bar"},"width":223,"height":21,"mark":{"type":"rect","strokeWidth":0.4},"encoding":{
"x":{"field":"pos","type":"quantitative","scale":{"domain":[0,1],"nice":false,"zero":false},"axis":{"title":null,"values":[0,0.5,1],"domain":false,"ticks":false,"grid":false,"labelFlush":true,"labelFontSize":17,"labelColor":"#222","labelPadding":6.5,"labelExpr":"datum.value==0?'0.0':datum.value==1?'10.981576':'1.0'"}},
"x2":{"field":"end"},
"color":{"field":"value","type":"quantitative","legend":null,"scale":{"type":"linear","interpolate":"rgb","domain":[0,0.33,1,11],"range":["#6fbb2e","#22ac38","#040000","#e8171b"]}},
"stroke":{"field":"value","type":"quantitative","legend":null,"scale":{"type":"linear","interpolate":"rgb","domain":[0,0.33,1,11],"range":["#6fbb2e","#22ac38","#040000","#e8171b"]}}}},
{"data":{"name":"right"},"width":223,"height":669,"mark":{"type":"rect","strokeWidth":0.4},"encoding":{
"x":{"field":"tissue","type":"nominal","sort":null,"scale":{"paddingInner":0,"paddingOuter":0},"axis":{"orient":"top","title":null,"domain":false,"ticks":false,"labelAngle":-90,"labelFontSize":16,"labelColor":"#222","labelPadding":7,"labelOffset":-3.5}},
"y":{"field":"gene","type":"nominal","sort":null,"scale":{"paddingInner":0,"paddingOuter":0},"axis":{"orient":"right","title":null,"domain":false,"ticks":false,"labelFontSize":13.9,"labelColor":"#222","labelPadding":20.5,"labelOffset":0.5}},
"color":{"field":"value","type":"quantitative","legend":null,"scale":{"type":"linear","interpolate":"rgb","domain":[0,0.33,1,11],"range":["#6fbb2e","#22ac38","#040000","#e8171b"]}},
"stroke":{"field":"value","type":"quantitative","legend":null,"scale":{"type":"linear","interpolate":"rgb","domain":[0,0.33,1,11],"range":["#6fbb2e","#22ac38","#040000","#e8171b"]}}}}
],"spacing":5.4}
],"spacing":62,"resolve":{"scale":{"color":"independent","stroke":"independent"}}}
